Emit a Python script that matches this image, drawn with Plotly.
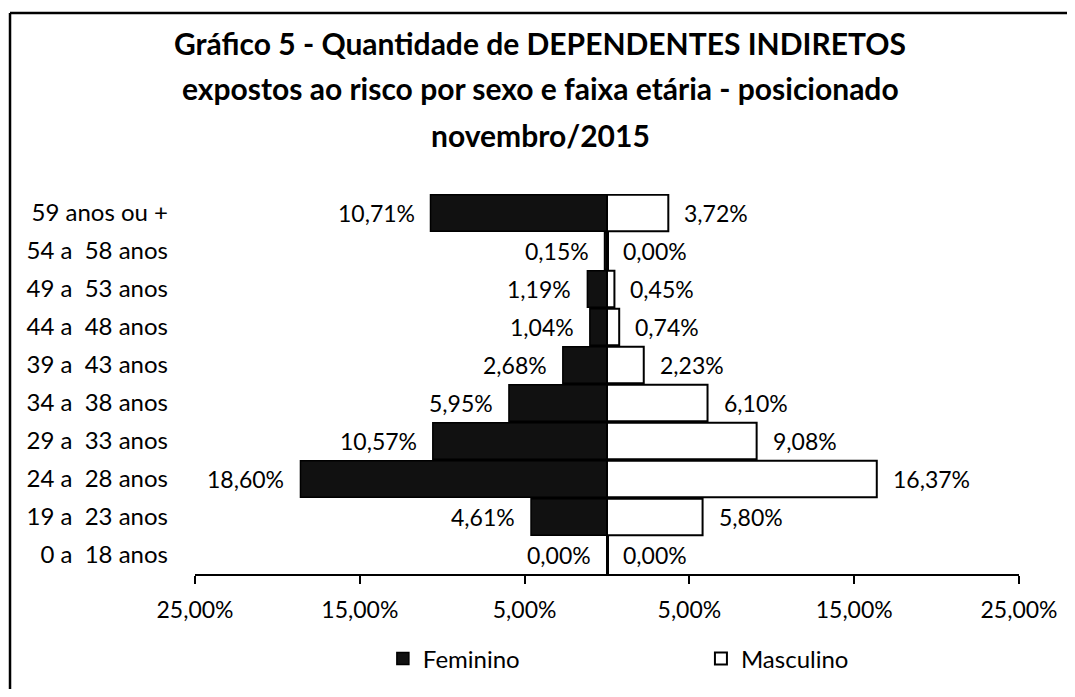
import plotly.graph_objects as go

# Faixas etárias (de baixo para cima, como no gráfico)
faixas = [
    "0 a\u00a0 18 anos",
    "19 a\u00a0 23 anos",
    "24 a\u00a0 28 anos",
    "29 a\u00a0 33 anos",
    "34 a\u00a0 38 anos",
    "39 a\u00a0 43 anos",
    "44 a\u00a0 48 anos",
    "49 a\u00a0 53 anos",
    "54 a\u00a0 58 anos",
    "59 anos ou +",
]
feminino = [0.00, 4.61, 18.60, 10.57, 5.95, 2.68, 1.04, 1.19, 0.15, 10.71]
masculino = [0.00, 5.80, 16.37, 9.08, 6.10, 2.23, 0.74, 0.45, 0.00, 3.72]

tick_vals = [-25, -15, -5, 5, 15, 25]
tick_text = ["25,00%", "15,00%", "5,00%", "5,00%", "15,00%", "25,00%"]

titulo = [
    "Gráfico 5 - Quantidade de DEPENDENTES INDIRETOS",
    "expostos ao risco por sexo e faixa etária - posicionado",
    "novembro/2015",
]

FONT = "Lato, Carlito, Calibri, sans-serif"


def _pct(v: float) -> str:
    """Formato brasileiro: 10,71%."""
    return f"{v:.2f}".replace(".", ",") + "%"


fig = go.Figure()
fig.add_trace(
    go.Bar(
        y=faixas, x=[-v for v in feminino], orientation="h", name="Feminino",
        marker=dict(color="#111111", line=dict(color="#000000", width=1.5)),
        legend="legend",
    )
)
fig.add_trace(
    go.Bar(
        y=faixas, x=masculino, orientation="h", name="Masculino",
        marker=dict(color="#ffffff", line=dict(color="#000000", width=2)),
        legend="legend2",
    )
)

# Rótulos de dados fora das barras.
annotations = []
for cat, f, m in zip(faixas, feminino, masculino):
    annotations.append(dict(
        x=-f, y=cat, xref="x", yref="y", text=_pct(f), showarrow=False,
        xanchor="right", xshift=-14, font=dict(size=23, color="#000"),
    ))
    annotations.append(dict(
        x=m, y=cat, xref="x", yref="y", text=_pct(m), showarrow=False,
        xanchor="left", xshift=14, font=dict(size=23, color="#000"),
    ))

# Título em três linhas.
for line, ypos in zip(titulo, [1.398, 1.279, 1.156]):
    annotations.append(dict(
        x=0.4187, y=ypos, xref="paper", yref="paper", text=f"<b>{line}</b>",
        showarrow=False, xanchor="center", yanchor="middle",
        font=dict(size=30, color="#000"),
    ))

legend_style = dict(
    orientation="h", xanchor="left", y=-0.2237, yanchor="middle",
    font=dict(size=24), bgcolor="rgba(0,0,0,0)",
)

# O body da página tem 8 px de margem: a figura fica menor para não gerar
# barras de rolagem na janela de 1075x697.
fig.update_layout(
    width=1059, height=681,
    margin=dict(l=187, r=48, t=186, b=115, autoexpand=False),
    paper_bgcolor="white", plot_bgcolor="white",
    font=dict(family=FONT, size=24, color="#000"),
    barmode="relative", bargap=0.04,
    showlegend=True,
    legend=dict(x=0.228, **legend_style),
    legend2=dict(x=0.614, **legend_style),
    annotations=annotations,
    shapes=[
        dict(type="line", xref="paper", yref="paper", x0=-0.2245, x1=-0.2245,
             y0=1.476, y1=-0.36, line=dict(color="#000", width=2.5)),
        dict(type="line", xref="paper", yref="paper", x0=-0.2245, x1=1.1,
             y0=1.476, y1=1.476, line=dict(color="#000", width=2.5)),
    ],
)
fig.update_xaxes(
    range=[-25, 25], tickvals=tick_vals, ticktext=tick_text,
    tickfont=dict(size=23),
    showline=True, linecolor="#000", linewidth=2,
    ticks="outside", ticklen=8, tickwidth=2, tickcolor="#000",
    ticklabelstandoff=6, showgrid=False,
    zeroline=True, zerolinecolor="#000", zerolinewidth=2.5,
)
fig.update_yaxes(
    categoryorder="array", categoryarray=faixas, range=[-0.5, 9.5],
    showline=False, showgrid=False, ticks="", ticklabelstandoff=26,
)

fig.write_html("out.html")
